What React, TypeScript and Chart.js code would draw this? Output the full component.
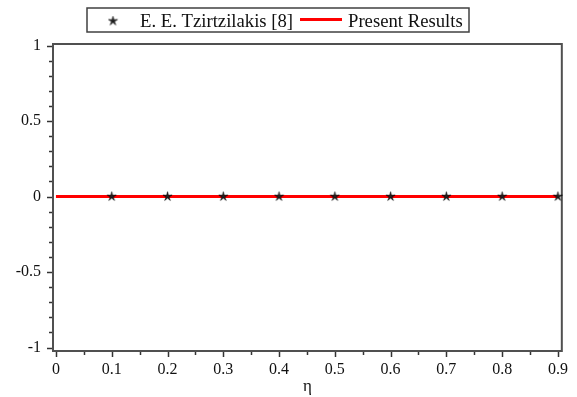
import React, { useEffect, useRef } from 'react';
import { Chart, registerables } from 'chart.js';

Chart.register(...registerables);

// ---- data ----
const etaReference = [0.1, 0.2, 0.3, 0.4, 0.5, 0.6, 0.7, 0.8, 0.9];
const tzirtzilakis = [0, 0, 0, 0, 0, 0, 0, 0, 0];
const etaPresent = [0, 0.1, 0.2, 0.3, 0.4, 0.5, 0.6, 0.7, 0.8, 0.9];
const presentResults = [0, 0, 0, 0, 0, 0, 0, 0, 0, 0];

const xTickValues = [0, 0.1, 0.2, 0.3, 0.4, 0.5, 0.6, 0.7, 0.8, 0.9];
const xTickLabels = ['0', '0.1', '0.2', '0.3', '0.4', '0.5', '0.6', '0.7', '0.8', '0.9'];
const yTickValues = [-1, -0.5, 0, 0.5, 1];
const yTickLabels = ['-1', '-0.5', '0', '0.5', '1'];
const legendLabels = ['E. E. Tzirtzilakis [8]', 'Present Results'];
const xTitle = 'η';

const SERIF = '"Liberation Serif", "Times New Roman", serif';
const TEXT = '#111';
const AXIS = '#505050';

function makeStar(size = 11, outer = 4.8, inner = 1.5): HTMLCanvasElement {
  const c = document.createElement('canvas');
  c.width = size;
  c.height = size;
  const ctx = c.getContext('2d')!;
  ctx.beginPath();
  for (let i = 0; i < 10; i++) {
    const r = i % 2 === 0 ? outer : inner;
    const a = -Math.PI / 2 + (i * Math.PI) / 5;
    ctx.lineTo(size / 2 + r * Math.cos(a), size / 2 + r * Math.sin(a));
  }
  ctx.closePath();
  ctx.fillStyle = '#222';
  ctx.fill();
  ctx.strokeStyle = '#000';
  ctx.lineWidth = 0.6;
  ctx.stroke();
  return c;
}

export default function App() {
  const canvasRef = useRef<HTMLCanvasElement | null>(null);

  useEffect(() => {
    if (!canvasRef.current) return;
    const star = makeStar();

    const framePlugin = {
      id: 'frameAndTicks',
      beforeDatasetsDraw(chart: any) {
        const { ctx, chartArea: a } = chart;
        ctx.save();
        ctx.strokeStyle = AXIS;
        ctx.lineWidth = 2;
        ctx.strokeRect(a.left, a.top, a.right - a.left, a.bottom - a.top);
        ctx.restore();
      },
      afterDraw(chart: any) {
        const { ctx, chartArea: a } = chart;
        const xs = chart.scales.x;
        const ys = chart.scales.y;
        ctx.save();
        ctx.strokeStyle = '#333';
        ctx.lineWidth = 1.5;
        // y ticks
        for (let i = -10; i <= 10; i++) {
          const py = Math.round(ys.getPixelForValue(i / 10)) + 0.5;
          const len = i % 5 === 0 ? 5 : 3;
          ctx.beginPath();
          ctx.moveTo(a.left - 1 - len, py);
          ctx.lineTo(a.left - 1, py);
          ctx.stroke();
        }
        // x ticks
        for (let i = 0; i <= 18; i++) {
          const px = Math.round(xs.getPixelForValue(i * 0.05)) + 0.5;
          const len = i % 2 === 0 ? 5 : 3;
          ctx.beginPath();
          ctx.moveTo(px, a.bottom + 1);
          ctx.lineTo(px, a.bottom + 1 + len);
          ctx.stroke();
        }

        // legend
        const bx = 87, by = 8, bw = 382, bh = 24;
        ctx.fillStyle = '#fff';
        ctx.fillRect(bx, by, bw, bh);
        ctx.strokeStyle = '#404040';
        ctx.lineWidth = 1.5;
        ctx.strokeRect(bx, by, bw, bh);
        ctx.drawImage(star, 113 - star.width / 2, 21 - star.height / 2);
        ctx.fillStyle = TEXT;
        ctx.font = `18.7px ${SERIF}`;
        ctx.textBaseline = 'alphabetic';
        ctx.textAlign = 'left';
        ctx.fillText(legendLabels[0], 140, 27);
        ctx.strokeStyle = '#ff0000';
        ctx.lineWidth = 3;
        ctx.beginPath();
        ctx.moveTo(300, 19.5);
        ctx.lineTo(342, 19.5);
        ctx.stroke();
        ctx.fillText(legendLabels[1], 348, 27);
        ctx.restore();
      },
    };

    const chart = new Chart(canvasRef.current, {
      type: 'scatter',
      data: {
        datasets: [
          {
            label: legendLabels[0],
            data: etaReference.map((x, i) => ({ x, y: tzirtzilakis[i] })),
            showLine: false,
            pointStyle: star as any,
            pointRadius: 5,
            clip: false as any,
          },
          {
            label: legendLabels[1],
            data: etaPresent.map((x, i) => ({ x, y: presentResults[i] })),
            showLine: true,
            borderColor: '#ff0000',
            borderWidth: 3,
            pointRadius: 0,
            clip: false as any,
          },
        ],
      },
      options: {
        animation: false,
        responsive: false,
        layout: { padding: { top: 44, right: 11, left: 0, bottom: 0 } },
        plugins: { legend: { display: false }, tooltip: { enabled: false } },
        scales: {
          x: {
            type: 'linear',
            min: -0.0053,
            max: 0.907,
            afterBuildTicks: (s: any) => {
              s.ticks = xTickValues.map((v) => ({ value: v }));
            },
            afterFit: (s: any) => {
              s.height = 46;
            },
            ticks: {
              autoSkip: false,
              maxRotation: 0,
              padding: 9,
              color: TEXT,
              font: { family: SERIF, size: 16 },
              callback: (_v: any, i: number) => xTickLabels[i],
            },
            grid: { display: false, drawTicks: false },
            border: { display: false },
            title: {
              display: true,
              text: xTitle,
              color: TEXT,
              font: { family: SERIF, size: 17 },
              padding: { top: 0, bottom: 0 },
            },
          },
          y: {
            type: 'linear',
            min: -1.023,
            max: 1.01,
            afterBuildTicks: (s: any) => {
              s.ticks = yTickValues.map((v) => ({ value: v }));
            },
            afterFit: (s: any) => {
              s.width = 53;
            },
            ticks: {
              autoSkip: false,
              padding: 12,
              color: TEXT,
              font: { family: SERIF, size: 16 },
              callback: (_v: any, i: number) => yTickLabels[i],
            },
            grid: { display: false, drawTicks: false },
            border: { display: false },
          },
        },
      },
      plugins: [framePlugin],
    } as any);

    return () => chart.destroy();
  }, []);

  return (
    <div style={{ position: 'absolute', left: 0, top: 0, width: 577, height: 397, background: '#fff' }}>
      <canvas ref={canvasRef} width={577} height={397} />
    </div>
  );
}
